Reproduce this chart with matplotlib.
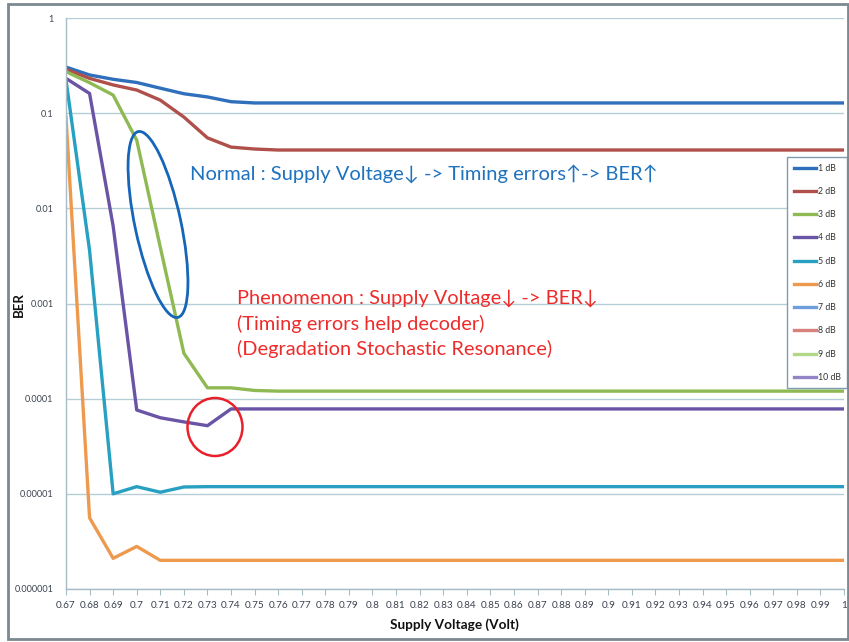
import matplotlib
matplotlib.use("Agg")
import matplotlib.pyplot as plt
from matplotlib.patches import Ellipse, Rectangle
from matplotlib.transforms import IdentityTransform
import numpy as np

voltage = [0.67, 0.68, 0.69, 0.70, 0.71, 0.72, 0.73, 0.74, 0.75, 0.76, 0.77, 0.78,
           0.79, 0.80, 0.81, 0.82, 0.83, 0.84, 0.85, 0.86, 0.87, 0.88, 0.89, 0.90,
           0.91, 0.92, 0.93, 0.94, 0.95, 0.96, 0.97, 0.98, 0.99, 1.00]
tick_labels = ['0.67', '0.68', '0.69', '0.7', '0.71', '0.72', '0.73', '0.74', '0.75',
               '0.76', '0.77', '0.78', '0.79', '0.8', '0.81', '0.82', '0.83', '0.84',
               '0.85', '0.86', '0.87', '0.88', '0.89', '0.9', '0.91', '0.92', '0.93',
               '0.94', '0.95', '0.96', '0.97', '0.98', '0.99', '1']

ber_1db = [0.305, 0.252, 0.227, 0.21, 0.183, 0.16, 0.148, 0.132, 0.128, 0.128, 0.128, 0.128,
           0.128, 0.128, 0.128, 0.128, 0.128, 0.128, 0.128, 0.128, 0.128, 0.128, 0.128, 0.128,
           0.128, 0.128, 0.128, 0.128, 0.128, 0.128, 0.128, 0.128, 0.128, 0.128]
ber_2db = [0.289, 0.232, 0.198, 0.175, 0.137, 0.091, 0.055, 0.044, 0.042, 0.041, 0.041, 0.041,
           0.041, 0.041, 0.041, 0.041, 0.041, 0.041, 0.041, 0.041, 0.041, 0.041, 0.041, 0.041,
           0.041, 0.041, 0.041, 0.041, 0.041, 0.041, 0.041, 0.041, 0.041, 0.041]
ber_3db = [0.273, 0.209, 0.155, 0.052, 0.0039, 0.0003, 0.00013, 0.00013, 0.000122, 0.00012,
           0.00012, 0.00012, 0.00012, 0.00012, 0.00012, 0.00012, 0.00012, 0.00012, 0.00012,
           0.00012, 0.00012, 0.00012, 0.00012, 0.00012, 0.00012, 0.00012, 0.00012, 0.00012,
           0.00012, 0.00012, 0.00012, 0.00012, 0.00012, 0.00012]
ber_4db = [0.232, 0.161, 0.0065, 7.6e-5, 6.3e-5, 5.7e-5, 5.2e-5, 7.8e-5, 7.8e-5, 7.8e-5,
           7.8e-5, 7.8e-5, 7.8e-5, 7.8e-5, 7.8e-5, 7.8e-5, 7.8e-5, 7.8e-5, 7.8e-5, 7.8e-5,
           7.8e-5, 7.8e-5, 7.8e-5, 7.8e-5, 7.8e-5, 7.8e-5, 7.8e-5, 7.8e-5, 7.8e-5, 7.8e-5,
           7.8e-5, 7.8e-5, 7.8e-5, 7.8e-5]
ber_5db = [0.223, 0.0036, 1.0e-5, 1.19e-5, 1.04e-5, 1.18e-5, 1.19e-5, 1.19e-5, 1.19e-5,
           1.19e-5, 1.19e-5, 1.19e-5, 1.19e-5, 1.19e-5, 1.19e-5, 1.19e-5, 1.19e-5, 1.19e-5,
           1.19e-5, 1.19e-5, 1.19e-5, 1.19e-5, 1.19e-5, 1.19e-5, 1.19e-5, 1.19e-5, 1.19e-5,
           1.19e-5, 1.19e-5, 1.19e-5, 1.19e-5, 1.19e-5, 1.19e-5, 1.19e-5]
ber_6db = [0.091, 5.6e-6, 2.1e-6, 2.8e-6, 2.0e-6, 2.0e-6, 2.0e-6, 2.0e-6, 2.0e-6, 2.0e-6,
           2.0e-6, 2.0e-6, 2.0e-6, 2.0e-6, 2.0e-6, 2.0e-6, 2.0e-6, 2.0e-6, 2.0e-6, 2.0e-6,
           2.0e-6, 2.0e-6, 2.0e-6, 2.0e-6, 2.0e-6, 2.0e-6, 2.0e-6, 2.0e-6, 2.0e-6, 2.0e-6,
           2.0e-6, 2.0e-6, 2.0e-6, 2.0e-6]
# 7-10 dB have no visible points on the chart
ber_7db = []
ber_8db = []
ber_9db = []
ber_10db = []

series_labels = ['1 dB', '2 dB', '3 dB', '4 dB', '5 dB', '6 dB', '7 dB', '8 dB', '9 dB', '10 dB']
series_values = [ber_1db, ber_2db, ber_3db, ber_4db, ber_5db, ber_6db,
                 ber_7db, ber_8db, ber_9db, ber_10db]
series_colors = ['#2F6FBC', '#B0504A', '#8FB953', '#6A54A6', '#27A0C2', '#EE9A4E',
                 '#6E9FDC', '#D8817C', '#B2D786', '#9484C6']

y_ticks = [1, 0.1, 0.01, 0.001, 0.0001, 0.00001, 0.000001]
y_tick_labels = ['1', '0.1', '0.01', '0.001', '0.0001', '0.00001', '0.000001']

W, H = 849, 642
fig = plt.figure(figsize=(W / 100, H / 100), dpi=100)
fig.patch.set_facecolor('white')

ax = fig.add_axes([66 / W, 1 - 589 / H, 778 / W, 571 / H])
ax.set_yscale('log')

for lab, vals, col in zip(series_labels, series_values, series_colors):
    xs = voltage[:len(vals)]
    ax.plot(xs, vals, color=col, lw=2.4, label=lab, solid_joinstyle='round')

ax.set_xlim(0.67, 1.0)
ax.set_ylim(1e-6, 1)
ax.set_xticks(voltage)
ax.set_xticklabels(tick_labels)
ax.set_yticks(y_ticks)
ax.set_yticklabels(y_tick_labels)
ax.minorticks_off()
ax.yaxis.grid(True, color='#B6CCD6', lw=1.0)
ax.set_axisbelow(True)

fam = ['Lato', 'DejaVu Sans']
for t in ax.get_xticklabels():
    t.set_fontfamily(fam)
    t.set_fontsize(7.2)
    t.set_color('#3B4250')
for t in ax.get_yticklabels():
    t.set_fontfamily(fam)
    t.set_fontsize(6.6)
    t.set_color('#3B4250')
ax.tick_params(axis='x', length=4, width=0.8, color='#A8BCC6', pad=5, direction='out')
ax.tick_params(axis='y', length=0, pad=9)

for s in ['top', 'right']:
    ax.spines[s].set_visible(False)
ax.spines['left'].set_color('#A8BCC6')
ax.spines['bottom'].set_color('#A8BCC6')
ax.spines['left'].set_linewidth(1.0)
ax.spines['bottom'].set_linewidth(1.0)

ax.set_xlabel('Supply Voltage (Volt)', fontfamily=fam,
              fontweight='bold', fontsize=9.8, color='#111111')
ax.xaxis.set_label_coords(0.4987, -0.051)
ax.set_ylabel('BER', fontfamily=fam, fontweight='bold',
              fontsize=9.5, color='#111111')
ax.yaxis.set_label_coords(-0.0527, 0.499)

leg = ax.legend(loc='upper left', bbox_to_anchor=(787 / W, 1 - 157 / H),
                bbox_transform=fig.transFigure, fancybox=False, frameon=True,
                prop={'family': fam, 'size': 6.3},
                handlelength=2.6, handletextpad=0.15, labelspacing=1.63,
                borderpad=0.75, borderaxespad=0, framealpha=1)
leg.get_frame().set_edgecolor('#7E9DAE')
leg.get_frame().set_linewidth(1.0)
for t in leg.get_texts():
    t.set_color('#333333')

fig.text(190 / W, 1 - 174 / H, 'Normal : Supply Voltage\u2193 -> Timing errors\u2191-> BER\u2191',
         color='#1F72BE', fontsize=14.5, family=fam, va='center', ha='left')
red_lines = ['Phenomenon : Supply Voltage\u2193 -> BER\u2193',
             '(Timing errors help decoder)',
             '(Degradation Stochastic Resonance)']
for i, line in enumerate(red_lines):
    fig.text(237 / W, 1 - (298 + 25.5 * i) / H, line, color='#EE2B2B', fontsize=14.4,
             family=fam, va='center', ha='left')

# ellipse and circle in pixel coordinates (origin bottom-left)
ell = Ellipse((158, H - 224.5), width=46, height=190, angle=12,
              transform=IdentityTransform(), fill=False, edgecolor='#1565B8', lw=2)
fig.patches.append(ell)
circ = Ellipse((215, H - 427), width=55, height=58, transform=IdentityTransform(),
               fill=False, edgecolor='#E8202A', lw=1.8)
fig.patches.append(circ)

border = Rectangle((8, 3), 840, 635, transform=IdentityTransform(), fill=False,
                   edgecolor='#7A8A90', lw=2)
fig.patches.append(border)

fig.savefig('out.png', dpi=100)
